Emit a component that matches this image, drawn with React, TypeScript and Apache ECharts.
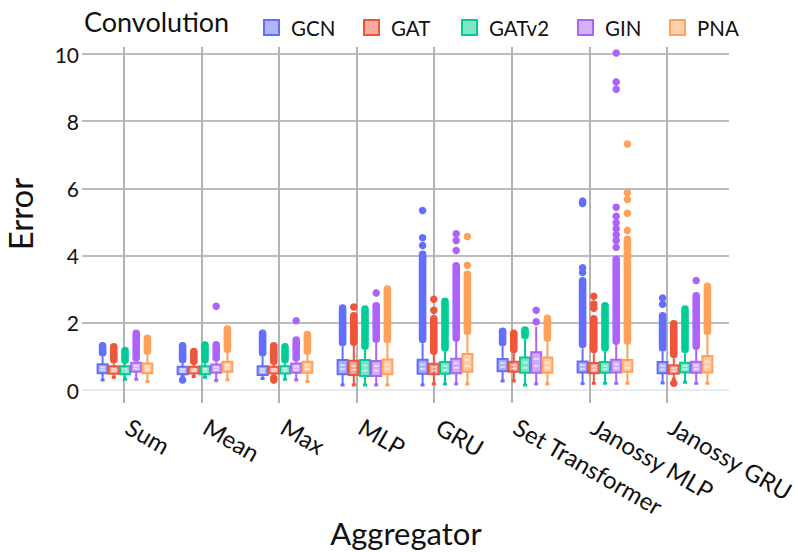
import React, { useEffect, useRef } from 'react';
import * as echarts from 'echarts';

const categories = ['Sum', 'Mean', 'Max', 'MLP', 'GRU', 'Set Transformer', 'Janossy MLP', 'Janossy GRU'];
const convolutions = ['GCN', 'GAT', 'GATv2', 'GIN', 'PNA'];
const colors = ['#636efa', '#ef553b', '#00cc96', '#ab63fa', '#ffa15a'];
const yTicks = [0, 2, 4, 6, 8, 10];

// per category: [lowerWhisker, q1, median, mean, q3, upperWhisker, top of dense outlier run (null = none)]
const gcnStats = [
  [0.30, 0.50, 0.60, 0.68, 0.77, 0.99, 1.43],
  [0.40, 0.47, 0.55, 0.62, 0.69, 0.79, 1.43],
  [0.34, 0.45, 0.54, 0.62, 0.71, 0.99, 1.80],
  [0.15, 0.47, 0.62, 0.74, 0.89, 1.29, 2.55],
  [0.15, 0.48, 0.63, 0.76, 0.90, 1.39, 4.15],
  [0.27, 0.56, 0.68, 0.80, 0.92, 1.29, 1.86],
  [0.19, 0.52, 0.63, 0.74, 0.85, 1.24, 3.36],
  [0.21, 0.50, 0.61, 0.72, 0.83, 1.14, 2.32],
];
const gatStats = [
  [0.38, 0.48, 0.56, 0.63, 0.71, 0.79, 1.40],
  [0.40, 0.49, 0.56, 0.62, 0.69, 0.74, 1.26],
  [0.40, 0.49, 0.56, 0.62, 0.69, 0.74, 1.43],
  [0.15, 0.45, 0.60, 0.72, 0.87, 1.31, 2.32],
  [0.18, 0.47, 0.58, 0.68, 0.78, 1.04, 2.23],
  [0.27, 0.54, 0.64, 0.74, 0.84, 1.09, 1.80],
  [0.20, 0.50, 0.60, 0.70, 0.80, 1.09, 2.23],
  [0.32, 0.48, 0.56, 0.65, 0.74, 0.94, 2.08],
];
const gatv2Stats = [
  [0.32, 0.47, 0.55, 0.63, 0.71, 0.77, 1.29],
  [0.38, 0.47, 0.55, 0.63, 0.71, 0.79, 1.45],
  [0.32, 0.49, 0.56, 0.64, 0.71, 0.79, 1.40],
  [0.15, 0.42, 0.58, 0.73, 0.89, 1.19, 2.52],
  [0.18, 0.48, 0.60, 0.72, 0.83, 1.14, 2.75],
  [0.15, 0.51, 0.66, 0.82, 0.97, 1.50, 1.90],
  [0.20, 0.51, 0.62, 0.72, 0.83, 1.14, 2.62],
  [0.23, 0.52, 0.62, 0.72, 0.81, 1.09, 2.52],
];
const ginStats = [
  [0.32, 0.54, 0.63, 0.72, 0.81, 0.84, 1.80],
  [0.28, 0.51, 0.60, 0.68, 0.76, 0.84, 1.46],
  [0.30, 0.51, 0.60, 0.70, 0.79, 0.84, 1.60],
  [0.15, 0.42, 0.58, 0.72, 0.86, 1.40, 2.62],
  [0.18, 0.50, 0.66, 0.80, 0.93, 1.43, 3.81],
  [0.18, 0.51, 0.72, 0.92, 1.12, 1.88, null],
  [0.20, 0.52, 0.65, 0.77, 0.90, 1.34, 4.00],
  [0.20, 0.51, 0.62, 0.73, 0.84, 1.19, 2.92],
];
const pnaStats = [
  [0.25, 0.50, 0.61, 0.70, 0.79, 1.04, 1.65],
  [0.30, 0.54, 0.64, 0.74, 0.84, 1.09, 1.93],
  [0.25, 0.51, 0.63, 0.74, 0.84, 1.04, 1.76],
  [0.15, 0.47, 0.62, 0.77, 0.91, 1.38, 3.12],
  [0.18, 0.54, 0.72, 0.90, 1.07, 1.63, 3.56],
  [0.18, 0.51, 0.66, 0.82, 0.97, 1.43, 2.25],
  [0.20, 0.54, 0.66, 0.78, 0.89, 1.34, 4.60],
  [0.20, 0.52, 0.69, 0.85, 1.01, 1.63, 3.20],
];

// isolated outliers: [categoryIndex, value]
const gcnOutliers = [[1, 0.30], [4, 4.30], [4, 4.53], [4, 5.34], [6, 3.50], [6, 3.64], [6, 5.55], [6, 5.62], [7, 2.55], [7, 2.74]];
const gatOutliers = [[2, 0.30], [2, 0.36], [3, 2.47], [4, 2.37], [4, 2.70], [6, 2.43], [6, 2.56], [6, 2.79], [7, 0.20]];
const gatv2Outliers = [[5, 1.72]];
const ginOutliers = [[1, 2.49], [2, 2.06], [3, 2.89], [4, 4.15], [4, 4.45], [4, 4.65], [5, 2.03], [5, 2.37],
  [6, 4.25], [6, 4.45], [6, 4.62], [6, 4.80], [6, 4.98], [6, 5.17], [6, 5.44], [6, 8.95], [6, 9.17], [6, 10.03], [7, 3.26]];
const pnaOutliers = [[4, 3.71], [4, 4.57], [6, 4.75], [6, 5.26], [6, 5.67], [6, 5.87], [6, 7.32]];

const allStats = [gcnStats, gatStats, gatv2Stats, ginStats, pnaStats];
const allOutliers = [gcnOutliers, gatOutliers, gatv2Outliers, ginOutliers, pnaOutliers];

const FONT = 'Lato, "Noto Sans", sans-serif';

function hexA(hex: string, a: number) {
  const r = parseInt(hex.slice(1, 3), 16), g = parseInt(hex.slice(3, 5), 16), b = parseInt(hex.slice(5, 7), 16);
  return `rgba(${r},${g},${b},${a})`;
}

export default function App() {
  const ref = useRef<HTMLDivElement>(null);
  useEffect(() => {
    if (!ref.current) return;
    const chart = echarts.init(ref.current, null, { renderer: 'svg' });
    const series: any[] = [];
    convolutions.forEach((name, s) => {
      const color = colors[s];
      const stats = allStats[s];
      series.push({
        type: 'custom',
        name,
        xAxisIndex: 2,
        yAxisIndex: 2,
        clip: false,
        itemStyle: { color },
        data: stats.map((st, i) => [i, st[1]]),
        renderItem: (params: any, api: any) => {
          const i = params.dataIndex;
          const st = stats[i];
          const band = api.size([1, 0])[0];
          const cx = api.coord([i, 0])[0] + (s - 2) * band * 0.14;
          const Y = (v: number) => api.coord([i, v])[1];
          const bw = band * 0.125;
          const dw = band * 0.095;
          const [lo, q1, med, mean, q3, hi, top] = st as number[];
          const children: any[] = [];
          children.push({ type: 'line', shape: { x1: cx, y1: Y(lo), x2: cx, y2: Y(q1) }, style: { stroke: color, lineWidth: 2 } });
          children.push({ type: 'rect', shape: { x: cx - 2, y: Y(lo) - 1.5, width: 4, height: 3 }, style: { fill: color } });
          children.push({ type: 'line', shape: { x1: cx, y1: Y(q3), x2: cx, y2: Y(hi) }, style: { stroke: color, lineWidth: 2 } });
          if (top != null) {
            const yt = Y(top), yb = Y(hi);
            children.push({ type: 'rect', shape: { x: cx - dw / 2, y: yt, width: dw, height: yb - yt, r: dw / 2 }, style: { fill: color } });
          }
          const yq3 = Y(q3), yq1 = Y(q1);
          children.push({ type: 'rect', shape: { x: cx - bw / 2, y: yq3, width: bw, height: yq1 - yq3 }, style: { fill: hexA(color, 0.55), stroke: color, lineWidth: 2 } });
          children.push({ type: 'line', shape: { x1: cx - bw / 2 + 2.5, y1: Y(med), x2: cx + bw / 2 - 2.5, y2: Y(med) }, style: { stroke: 'rgba(255,255,255,0.55)', lineWidth: 2 } });
          children.push({ type: 'line', shape: { x1: cx - bw / 2 + 2.5, y1: Y(mean), x2: cx + bw / 2 - 2.5, y2: Y(mean) }, style: { stroke: 'rgba(255,255,255,0.55)', lineWidth: 2 } });
          return { type: 'group', children };
        },
        z: 3,
      });
      series.push({
        type: 'custom',
        name,
        xAxisIndex: 2,
        yAxisIndex: 2,
        clip: false,
        itemStyle: { color },
        data: allOutliers[s],
        renderItem: (params: any, api: any) => {
          const i = api.value(0);
          const v = api.value(1);
          const band = api.size([1, 0])[0];
          const p = api.coord([i, v]);
          const cx = p[0] + (s - 2) * band * 0.14;
          return { type: 'circle', shape: { cx, cy: p[1], r: band * 0.047 }, style: { fill: color } };
        },
        z: 3,
      });
    });

    const legendLefts = [258, 358, 456, 572, 664];
    const legends = convolutions.map((name, s) => ({
      left: legendLefts[s],
      top: 12,
      icon: 'rect',
      itemWidth: 15,
      itemHeight: 15,
      selectedMode: false,
      data: [{ name, itemStyle: { color: hexA(colors[s], 0.5), borderColor: colors[s], borderWidth: 2 } }],
      textStyle: { fontFamily: FONT, fontSize: 20.5, color: '#111', padding: [0, 0, 0, 7] },
    }));

    chart.setOption({
      animation: false,
      backgroundColor: '#fff',
      textStyle: { fontFamily: FONT },
      grid: [
        { left: 85, right: 73, top: 47, bottom: 154 },
        { left: 82, right: 69, top: 54, bottom: 162 },
        { left: 85, right: 73, top: 54, bottom: 162 },
      ],
      legend: legends,
      xAxis: [
        {
          gridIndex: 0,
          type: 'category',
          data: categories,
          axisLine: { show: false },
          axisTick: { show: true, alignWithLabel: true, length: 5, lineStyle: { color: '#b3b3b3', width: 2 } },
          splitLine: { show: true, alignWithLabel: true, lineStyle: { color: '#b3b3b3', width: 2 } },
          axisLabel: { rotate: -30, margin: 24, fontSize: 24, color: '#111', fontFamily: FONT, interval: 0, padding: [0, 0, 0, 5] },
        },
        { gridIndex: 1, type: 'value', show: false, min: 0, max: 1 },
        { gridIndex: 2, type: 'category', data: categories, show: false },
      ],
      yAxis: [
        { gridIndex: 0, type: 'value', min: 0, max: 1, show: false },
        {
          gridIndex: 1,
          type: 'value',
          min: yTicks[0],
          max: yTicks[yTicks.length - 1],
          interval: 2,
          axisLine: { show: false },
          axisTick: { show: false },
          splitLine: { show: true, lineStyle: { color: ['#e6eaf3', '#bdbdbd', '#bdbdbd', '#bdbdbd', '#bdbdbd', '#bdbdbd'], width: 2 } },
          axisLabel: { fontSize: 21, color: '#111', margin: 3, fontFamily: FONT },
        },
        { gridIndex: 2, type: 'value', min: yTicks[0], max: yTicks[yTicks.length - 1], show: false },
      ],
      graphic: [
        { type: 'text', left: 84, top: 8, style: { text: 'Convolution', fontSize: 27, fill: '#111', fontFamily: FONT } },
        { type: 'text', x: 20, y: 214, rotation: Math.PI / 2, style: { text: 'Error', fontSize: 33, fill: '#111', fontFamily: FONT, align: 'center', verticalAlign: 'middle' } },
        { type: 'text', x: 406, y: 533, style: { text: 'Aggregator', fontSize: 31, fill: '#111', fontFamily: FONT, align: 'center', verticalAlign: 'middle' } },
      ],
      series,
    });
    return () => chart.dispose();
  }, []);
  return <div ref={ref} style={{ width: 798, height: 552, position: 'absolute', left: 0, top: 0 }} />;
}
